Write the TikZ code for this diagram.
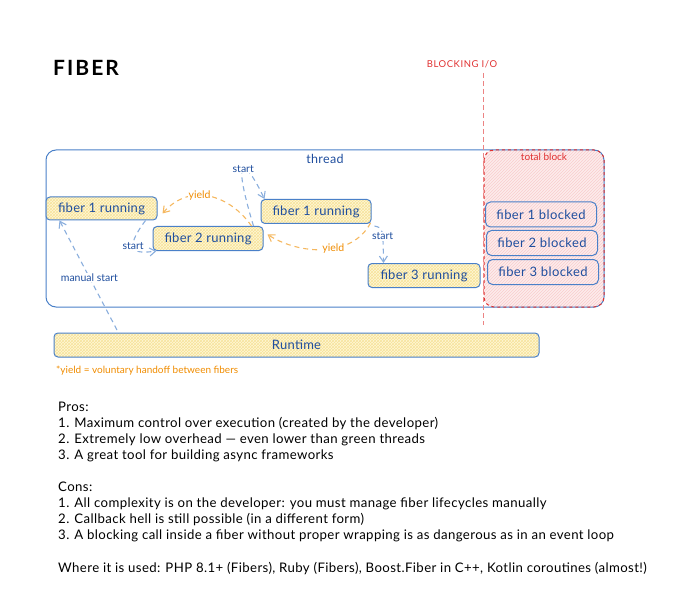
\documentclass[tikz,border=0pt]{standalone}
\usepackage{fontspec}
\setmainfont{Lato}
\usetikzlibrary{patterns,arrows.meta,calc}
\definecolor{bstroke}{HTML}{4A80C8}
\definecolor{barrow}{HTML}{8AAEDD}
\definecolor{btext}{HTML}{1F4E9E}
\definecolor{rstroke}{HTML}{E03131}
\definecolor{orng}{HTML}{F08C00}
\definecolor{oarrow}{HTML}{F5B860}
\definecolor{yfill}{HTML}{FFF7D6}
\definecolor{yhatch}{HTML}{F7E39A}
\definecolor{rfill}{HTML}{FDECEC}
\definecolor{rhatch}{HTML}{F9CDCD}
\tikzset{
  fiberbox/.style={draw=bstroke, line width=1pt, rounded corners=4pt,
    preaction={fill=yfill}, preaction={pattern=crosshatch, pattern color=yhatch},
    text=btext, font=\fontsize{13}{13}\selectfont\addfontfeatures{LetterSpace=2}, minimum width=110pt, minimum height=24pt, inner sep=0pt},
  blockbox/.style={draw=bstroke, line width=1pt, rounded corners=5pt,
    text=btext, font=\fontsize{13}{13}\selectfont\addfontfeatures{LetterSpace=3}, minimum width=111pt, minimum height=25pt, inner sep=0pt},
  barr/.style={draw=barrow, line width=1.1pt, dash pattern=on 5pt off 4pt, -{Straight Barb[length=6pt,width=8pt]}},
  oarr/.style={draw=oarrow, line width=1.1pt, dash pattern=on 5pt off 4pt, -{Straight Barb[length=6pt,width=8pt]}},
  blab/.style={text=btext, font=\fontsize{10.5}{10.5}\selectfont, fill=white, inner sep=1pt},
  olab/.style={text=orng, font=\fontsize{10.5}{10.5}\selectfont, fill=white, inner sep=1pt},
  body/.style={anchor=north west, align=left, font=\fontsize{13.2}{16}\selectfont\addfontfeatures{LetterSpace=3}, inner sep=0pt}
}
\begin{document}
\begin{tikzpicture}[x=1pt,y=-1pt]
\useasboundingbox (0,0) rectangle (688,596);
% title
\node[font=\fontsize{21}{21}\selectfont\bfseries\addfontfeatures{LetterSpace=10}] (title) at (86,68) {FIBER};
\node[text=rstroke, font=\fontsize{9.5}{9.5}\selectfont\addfontfeatures{LetterSpace=6}] (bio) at (462,64) {BLOCKING I/O};
% red region fill
\fill[rfill, rounded corners=10pt, postaction={pattern=north east lines, pattern color=rhatch}] (484,150) rectangle (604,307);
% thread box
\draw[bstroke, line width=1pt, rounded corners=10pt] (46,150) rectangle (604,307);
\draw[rstroke, line width=1pt, dashed, rounded corners=10pt] (484,150) rectangle (604,307);
\coordinate (ltop) at (483,73);
\coordinate (lbot) at (483,325);
\draw[rstroke!60, line width=1pt, dash pattern=on 5pt off 3pt] (ltop) -- (lbot);
\node[text=btext, font=\fontsize{12.5}{12.5}\selectfont\addfontfeatures{LetterSpace=3}] (thr) at (325,159) {thread};
\node[text=rstroke, font=\fontsize{10}{10}\selectfont] (tb) at (544,157) {total block};
% blocked
\node[blockbox] (b1) at (541,214.5) {fiber 1 blocked};
\node[blockbox] (b2) at (542,243) {fiber 2 blocked};
\node[blockbox] (b3) at (543,272) {fiber 3 blocked};
% running fibers
\node[fiberbox, minimum width=111pt, minimum height=23pt] (f1a) at (101.5,208.5) {fiber 1 running};
\node[fiberbox] (f1b) at (316,211.5) {fiber 1 running};
\node[fiberbox] (f2) at (208,238.5) {fiber 2 running};
\node[fiberbox, minimum width=112pt] (f3) at (424,275.5) {fiber 3 running};
% runtime
\node[fiberbox, minimum width=485pt, minimum height=24pt] (rt) at (296.5,345) {Runtime};
\node[text=orng, font=\fontsize{10}{10}\selectfont, anchor=west, inner sep=0pt] (note) at (56,371) {*yield = voluntary handoff between fibers};
% arrows
\coordinate (ms) at (117,330);
\draw[barr] (ms) -- node[blab, pos=0.48] {manual start} ([xshift=14pt]f1a.south west);
\draw[barr] ([xshift=-12pt]f1a.south east) .. controls (122,252) and (135,254) .. node[blab, pos=0.42] {start} ([xshift=4pt]f2.south west);
\draw[barr] ([xshift=-10pt]f2.north east) .. controls (230,148) and (246,160) .. node[blab, pos=0.5] {start} ([xshift=4pt]f1b.north west);
\draw[oarr] ([xshift=-12pt]f2.north east) .. controls (230,195) and (190,182) .. node[olab, pos=0.6] {yield} ([xshift=5pt,yshift=-5pt]f1a.east);
\draw[oarr] ([xshift=-1pt,yshift=1pt]f1b.south east) .. controls (352,258) and (300,255) .. node[olab, pos=0.42] {yield} ([xshift=4pt,yshift=4pt]f2.east);
\draw[barr] ([xshift=3pt,yshift=-2pt]f1b.south east) .. controls (383,228) .. node[blab, pos=0.62] {start} ([xshift=16pt]f3.north west);
% text
\node[body] (pros) at (58,402) {Pros:\\
1. Maximum control over execution (created by the developer)\\
2. Extremely low overhead — even lower than green threads\\
3. A great tool for building async frameworks};
\node[body] (cons) at (58,482) {Cons:\\
1. All complexity is on the developer: you must manage fiber lifecycles manually\\
2. Callback hell is still possible (in a different form)\\
3. A blocking call inside a fiber without proper wrapping is as dangerous as in an event loop};
\node[body] (where) at (58,562) {Where it is used: PHP 8.1+ (Fibers), Ruby (Fibers), Boost.Fiber in C++, Kotlin coroutines (almost!)};
\end{tikzpicture}
\end{document}
